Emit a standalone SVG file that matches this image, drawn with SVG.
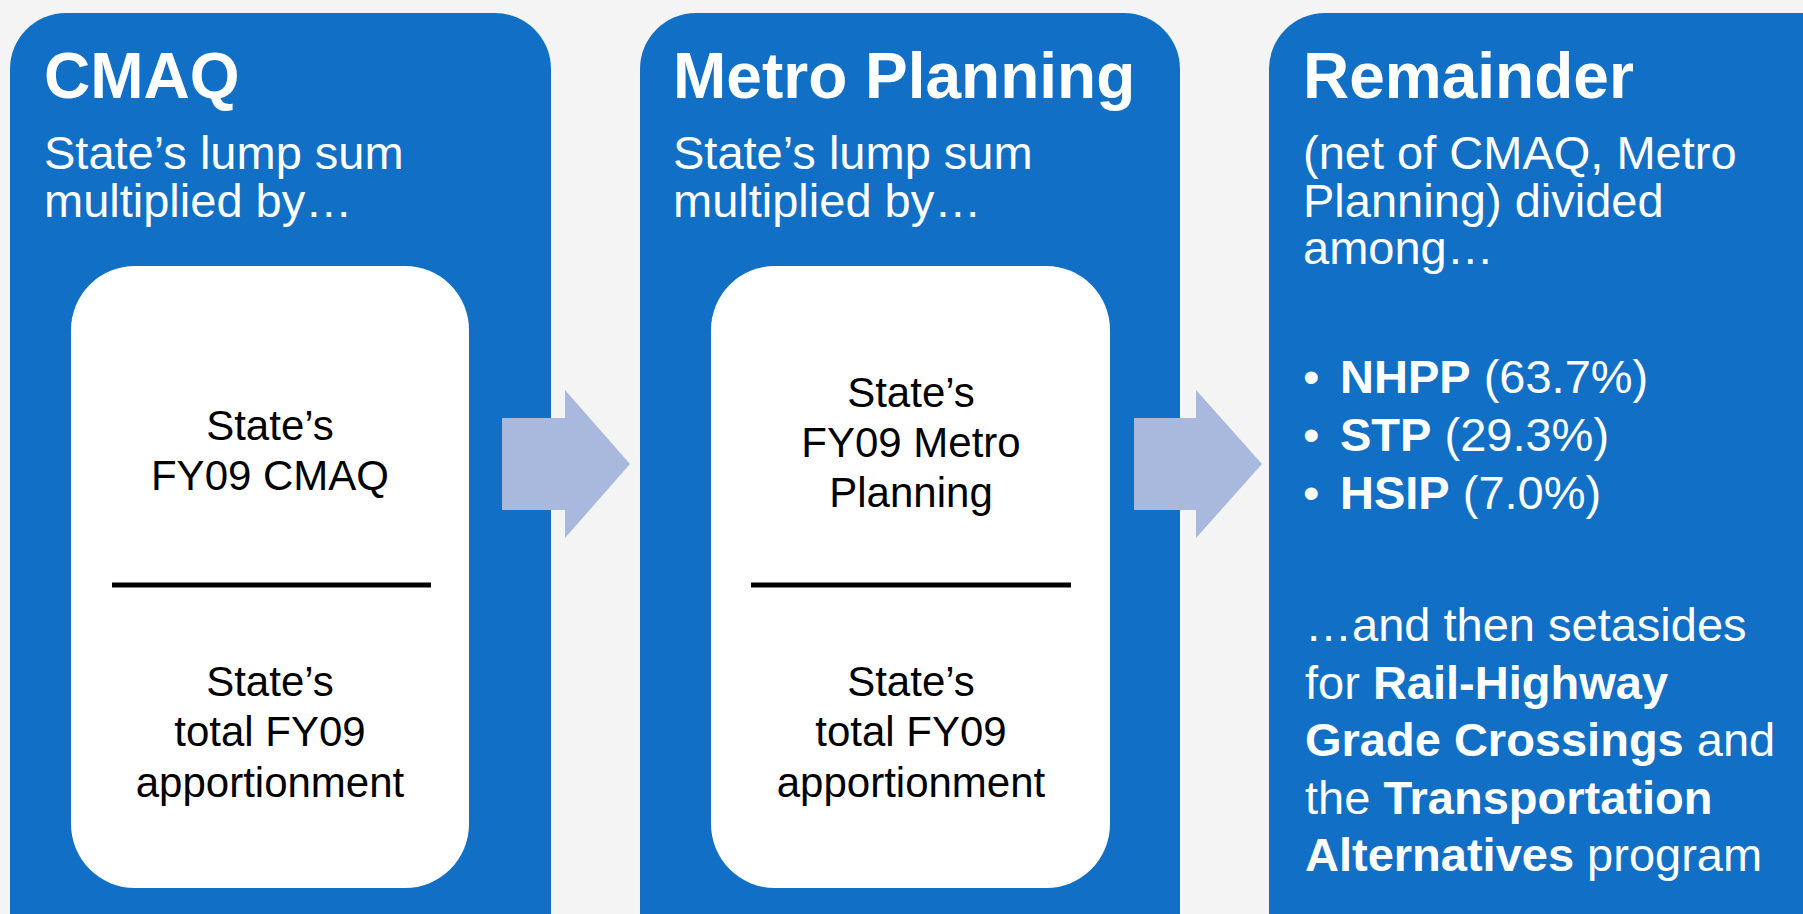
<svg xmlns="http://www.w3.org/2000/svg" width="1803" height="914" viewBox="0 0 1803 914">
<style>
.panel{fill:#1170C5}
.inner{fill:#FFFFFF}
.arrow{fill:#A9B9DE}
.div{stroke:#000;stroke-width:5}
text{font-family:"Liberation Sans",Arial,sans-serif}
.title{fill:#fff;font-weight:bold;font-size:64px}
.sub{fill:#fff;font-size:47px}
.in{fill:#000;font-size:42px;text-anchor:middle}
.b{font-weight:bold}
</style>
<rect x="0" y="0" width="1803" height="914" fill="#F4F4F4"/>
<g id="cmaq">
<rect class="panel" x="10" y="13" width="541" height="960" rx="56"/>
<text class="title" x="44" y="98">CMAQ</text>
<text class="sub" x="44" y="169">State’s lump sum</text>
<text class="sub" x="44" y="217">multiplied by…</text>
<rect class="inner" x="71" y="266" width="398" height="622" rx="64"/>
<text class="in" x="270" y="440">State’s</text>
<text class="in" x="270" y="490">FY09 CMAQ</text>
<line class="div" x1="112" y1="585" x2="431" y2="585"/>
<text class="in" x="270" y="696">State’s</text>
<text class="in" x="270" y="746">total FY09</text>
<text class="in" x="270" y="797">apportionment</text>
</g>
<g id="metro">
<rect class="panel" x="640" y="13" width="540" height="960" rx="56"/>
<text class="title" x="673" y="98">Metro Planning</text>
<text class="sub" x="673" y="169">State’s lump sum</text>
<text class="sub" x="673" y="217">multiplied by…</text>
<rect class="inner" x="711" y="266" width="399" height="622" rx="64"/>
<text class="in" x="911" y="407">State’s</text>
<text class="in" x="911" y="457">FY09 Metro</text>
<text class="in" x="911" y="507">Planning</text>
<line class="div" x1="751" y1="585" x2="1071" y2="585"/>
<text class="in" x="911" y="696">State’s</text>
<text class="in" x="911" y="746">total FY09</text>
<text class="in" x="911" y="797">apportionment</text>
</g>
<g id="remainder">
<rect class="panel" x="1269" y="13" width="600" height="960" rx="56"/>
<text class="title" x="1303" y="98">Remainder</text>
<text class="sub" x="1303" y="169">(net of CMAQ, Metro</text>
<text class="sub" x="1303" y="217">Planning) divided</text>
<text class="sub" x="1303" y="264">among…</text>
<text class="sub" x="1303" y="393">•<tspan x="1340" class="b">NHPP</tspan> (63.7%)</text>
<text class="sub" x="1303" y="451">•<tspan x="1340" class="b">STP</tspan> (29.3%)</text>
<text class="sub" x="1303" y="509">•<tspan x="1340" class="b">HSIP</tspan> (7.0%)</text>
<text class="sub" x="1305" y="641">…and then setasides</text>
<text class="sub" x="1305" y="699">for <tspan class="b">Rail-Highway</tspan></text>
<text class="sub" x="1305" y="756">
<tspan class="b">Grade Crossings</tspan> and</text>
<text class="sub" x="1305" y="814">the <tspan class="b">Transportation</tspan></text>
<text class="sub" x="1305" y="871">
<tspan class="b">Alternatives</tspan> program</text>
</g>
<g id="connectors">
<polygon class="arrow" points="502,418 565,418 565,390 630,464 565,538 565,510 502,510"/>
<polygon class="arrow" points="1134,418 1196,418 1196,390 1262,464 1196,538 1196,510 1134,510"/>
</g>
</svg>
